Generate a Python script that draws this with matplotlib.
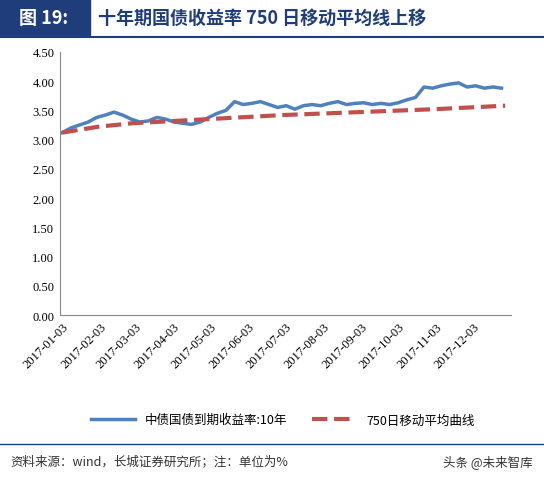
import pandas as pd
import numpy as np
import matplotlib
matplotlib.use('Agg')
import matplotlib.pyplot as plt

plt.rcParams['font.family'] = ['Noto Sans CJK SC', 'DejaVu Sans']

# weekly readings of the 10Y yield (approx. from the chart)
dates = pd.date_range('2017-01-03', '2017-12-29', freq='7D')
yld = [3.12, 3.20, 3.25, 3.30, 3.38, 3.42, 3.47, 3.42, 3.35, 3.30, 3.32, 3.38, 3.35,
       3.30, 3.28, 3.26, 3.30, 3.38, 3.45, 3.50, 3.65, 3.60, 3.62, 3.65, 3.60, 3.55,
       3.58, 3.52, 3.58, 3.60, 3.58, 3.62, 3.65, 3.60, 3.62, 3.63, 3.60, 3.62, 3.60,
       3.63, 3.68, 3.72, 3.90, 3.88, 3.92, 3.95, 3.97, 3.90, 3.92, 3.88, 3.90, 3.88]
yld = yld[:len(dates)]
ma_dates = pd.to_datetime(['2017-01-03', '2017-02-01', '2017-03-01', '2017-05-01', '2017-07-01',
                           '2017-09-01', '2017-11-01', '2017-12-29'])
ma = [3.12, 3.22, 3.28, 3.35, 3.42, 3.47, 3.52, 3.58]
ticks = pd.to_datetime([f'2017-{m:02d}-03' for m in range(1, 13)])

fig = plt.figure(figsize=(5.44, 4.81), dpi=100)
ax = fig.add_axes([0.11, 0.343, 0.83, 0.547])
ax.plot(dates, yld, color='#4f81bd', lw=2.5, label='中债国债到期收益率:10年')
ax.plot(ma_dates, ma, color='#c0504d', lw=3, ls='--', label='750日移动平均曲线')
ax.set_ylim(0, 4.5)
ax.set_yticks(np.arange(0, 4.51, 0.5))
ax.set_yticklabels([f'{v:.2f}' for v in np.arange(0, 4.51, 0.5)], fontsize=9, family='Liberation Serif')
ax.set_xlim(pd.Timestamp('2017-01-01'), pd.Timestamp('2018-01-03'))
ax.set_xticks(ticks)
ax.set_xticklabels([t.strftime('%Y-%m-%d') for t in ticks], rotation=45, ha='right',
                   fontsize=9, family='Liberation Serif', rotation_mode='anchor')
for s in ['top', 'right']:
    ax.spines[s].set_visible(False)
ax.spines['left'].set_color('#888888')
ax.spines['bottom'].set_color('#888888')
ax.tick_params(length=0, pad=4)
fig.legend(loc='center', bbox_to_anchor=(0.52, 0.125), ncol=2, frameon=False, fontsize=9,
           handlelength=3.5)

fig.patches.append(plt.Rectangle((0, 0.925), 0.165, 0.075, transform=fig.transFigure, color='#1f3d7a'))
fig.text(0.08, 0.962, '图 19:', color='white', fontsize=13, weight='bold', ha='center', va='center')
fig.text(0.18, 0.962, '十年期国债收益率 750 日移动平均线上移', color='#1f3d7a', fontsize=13,
         weight='bold', va='center')
fig.add_artist(plt.Line2D([0, 1], [0.922, 0.922], color='#1f3d7a', lw=1.5))
fig.add_artist(plt.Line2D([0, 1], [0.075, 0.075], color='#1f3d7a', lw=1))
fig.text(0.02, 0.04, '资料来源：wind，长城证券研究所；注：单位为%', fontsize=9, style='italic',
         color='#333333', va='center')
fig.text(0.98, 0.04, '头条 @未来智库', fontsize=9, color='#333333', va='center', ha='right')
fig.savefig('out.png', dpi=100)
